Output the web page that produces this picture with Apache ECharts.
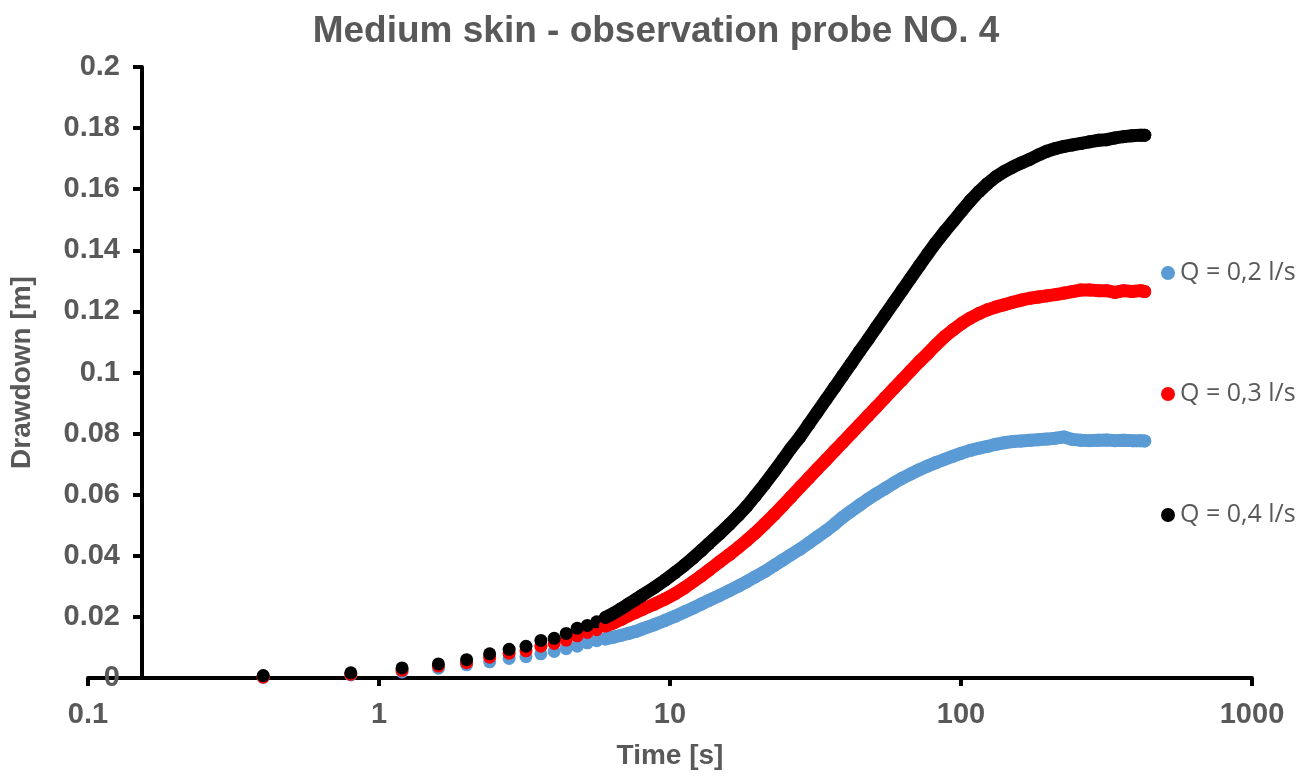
<!DOCTYPE html>
<html>
<head>
<meta charset="utf-8">
<script src="https://cdn.jsdelivr.net/npm/echarts@6/dist/echarts.min.js"></script>
<style>
  html, body { margin: 0; padding: 0; background: #fff; }
  #chart { width: 1312px; height: 778px; }
</style>
</head>
<body>
<div id="chart"></div>
<script>
// time [s], readings every 0.4 s early on, sampled more sparsely later
const times = [
  0.4, 0.8, 1.2, 1.6, 2.0, 2.4, 2.8, 3.2, 3.6, 4.0, 4.4, 4.8, 5.2, 5.6, 6.0, 6.4, 6.8, 7.2, 7.6, 8.0,
  8.8, 9.6, 10.4, 11.2, 12.0, 12.8, 13.6, 14.8, 16.0, 17.2,
  18.4, 19.6, 21.2, 22.8, 24.4, 26.0, 28.0, 30.0, 32.0, 34.4,
  36.8, 39.2, 42.0, 44.8, 48.0, 51.2, 54.8, 58.8, 62.8, 67.2,
  72.0, 76.8, 82.0, 88.0, 94.0, 100.4, 107.6, 115.2, 123.2, 131.6,
  140.8, 150.8, 161.2, 172.4, 184.4, 197.2, 211.2, 226.0, 241.6, 258.4,
  276.4, 295.6, 316.4, 338.4, 362.0, 387.2, 414.4, 428.0
];

// drawdown [m]
const q02 = [
  0.0002, 0.0010, 0.0020, 0.0032, 0.0043, 0.0053, 0.0064, 0.0070, 0.0079, 0.0087, 0.0096, 0.0104, 0.0115, 0.0122, 0.0128, 0.0134, 0.0140, 0.0146, 0.0152, 0.0160,
  0.0174, 0.0188, 0.0202, 0.0216, 0.0229, 0.0242, 0.0254, 0.0270, 0.0286, 0.0301,
  0.0316, 0.0331, 0.0349, 0.0368, 0.0386, 0.0403, 0.0422, 0.0442, 0.0461, 0.0482,
  0.0504, 0.0526, 0.0547, 0.0566, 0.0586, 0.0603, 0.0620, 0.0638, 0.0654, 0.0668,
  0.0682, 0.0694, 0.0705, 0.0716, 0.0726, 0.0736, 0.0745, 0.0752, 0.0758, 0.0765,
  0.0770, 0.0774, 0.0776, 0.0778, 0.0780, 0.0782, 0.0785, 0.0789, 0.0781, 0.0778,
  0.0777, 0.0778, 0.0779, 0.0777, 0.0778, 0.0777, 0.0777, 0.0776
];
const q03 = [
  0.0003, 0.0012, 0.0025, 0.0039, 0.0050, 0.0068, 0.0081, 0.0089, 0.0104, 0.0113, 0.0124, 0.0138, 0.0149, 0.0158, 0.0170, 0.0180, 0.0192, 0.0204, 0.0214, 0.0224,
  0.0241, 0.0258, 0.0276, 0.0295, 0.0315, 0.0334, 0.0353, 0.0380, 0.0404, 0.0428,
  0.0451, 0.0474, 0.0505, 0.0535, 0.0564, 0.0592, 0.0625, 0.0655, 0.0683, 0.0714,
  0.0744, 0.0771, 0.0801, 0.0829, 0.0859, 0.0887, 0.0917, 0.0948, 0.0976, 0.1006,
  0.1036, 0.1062, 0.1090, 0.1118, 0.1140, 0.1160, 0.1178, 0.1193, 0.1205, 0.1214,
  0.1222, 0.1230, 0.1237, 0.1243, 0.1247, 0.1251, 0.1255, 0.1260, 0.1265, 0.1270,
  0.1270, 0.1268, 0.1268, 0.1262, 0.1268, 0.1265, 0.1268, 0.1265
];
const q04 = [
  0.0008, 0.0017, 0.0033, 0.0046, 0.0060, 0.0079, 0.0094, 0.0104, 0.0123, 0.0130, 0.0146, 0.0163, 0.0172, 0.0184, 0.0198, 0.0212, 0.0227, 0.0242, 0.0256, 0.0270,
  0.0295, 0.0320, 0.0345, 0.0369, 0.0393, 0.0417, 0.0440, 0.0472, 0.0503, 0.0533,
  0.0563, 0.0595, 0.0636, 0.0676, 0.0714, 0.0751, 0.0790, 0.0831, 0.0869, 0.0912,
  0.0952, 0.0989, 0.1030, 0.1069, 0.1109, 0.1148, 0.1188, 0.1230, 0.1269, 0.1309,
  0.1350, 0.1388, 0.1425, 0.1462, 0.1495, 0.1528, 0.1562, 0.1592, 0.1618, 0.1640,
  0.1658, 0.1673, 0.1686, 0.1698, 0.1712, 0.1724, 0.1733, 0.1740, 0.1745, 0.1750,
  0.1755, 0.1760, 0.1762, 0.1768, 0.1772, 0.1775, 0.1777, 0.1777
];

const names = ['Q = 0,2 l/s', 'Q = 0,3 l/s', 'Q = 0,4 l/s'];
const colors = ['#5B9BD5', '#FF0000', '#000000'];
const values = [q02, q03, q04];

const gray = '#595959';
const bandFrom = 14; // index of t = 6 s, where the points merge into a band

const series = [];
values.forEach((vals, k) => {
  const pts = times.map((t, i) => [t, vals[i]]);
  // dense readings blur into a thick band
  series.push({
    name: names[k] + ' band',
    type: 'line',
    data: pts.slice(bandFrom),
    symbol: 'none',
    lineStyle: { color: colors[k], width: 13, cap: 'round', join: 'round' },
    silent: true
  });
  series.push({
    name: names[k],
    type: 'scatter',
    data: pts,
    symbolSize: 13,
    itemStyle: { color: colors[k], opacity: 1 }
  });
});

const chart = echarts.init(document.getElementById('chart'));
chart.setOption({
  animation: false,
  backgroundColor: '#ffffff',
  title: {
    text: 'Medium skin - observation probe NO. 4',
    left: 'center',
    top: 8,
    textStyle: { fontFamily: 'Liberation Sans', fontWeight: 'bold', fontSize: 37, color: gray }
  },
  legend: {
    data: names,
    orient: 'vertical',
    left: 1156,
    top: 253,
    icon: 'circle',
    itemWidth: 14,
    itemHeight: 14,
    itemGap: 91,
    textStyle: { fontFamily: 'Open Sans', fontSize: 25, color: gray, lineHeight: 30 }
  },
  grid: [
    { left: 88, right: 60, top: 67, bottom: 100 },
    { left: 140, right: 60, top: 67, bottom: 100 }
  ],
  xAxis: [
    {
      type: 'log',
      logBase: 10,
      min: 0.1,
      max: 1000,
      gridIndex: 0,
      name: 'Time [s]',
      nameLocation: 'middle',
      nameGap: 64,
      nameTextStyle: { fontFamily: 'Liberation Sans', fontWeight: 'bold', fontSize: 28, color: gray },
      axisLine: { show: true, onZero: false, lineStyle: { color: '#000', width: 4 } },
      axisTick: { show: true, length: 8, lineStyle: { color: '#000', width: 4 } },
      minorTick: { show: false },
      splitLine: { show: false },
      axisLabel: {
        fontFamily: 'Liberation Sans', fontWeight: 'bold', fontSize: 29, color: gray, margin: 22,
        formatter: function (v) { return String(v); }
      }
    },
    { type: 'value', gridIndex: 1, show: false, min: 0, max: 1 }
  ],
  yAxis: [
    { type: 'value', gridIndex: 0, show: false, min: 0, max: 0.2 },
    {
      type: 'value',
      gridIndex: 1,
      min: 0,
      max: 0.2,
      interval: 0.02,
      name: 'Drawdown [m]',
      nameLocation: 'middle',
      nameRotate: 90,
      nameGap: 106,
      nameTextStyle: { fontFamily: 'Liberation Sans', fontWeight: 'bold', fontSize: 28, color: gray },
      axisLine: { show: true, lineStyle: { color: '#000', width: 4 } },
      axisTick: { show: true, length: 9, lineStyle: { color: '#000', width: 4 } },
      splitLine: { show: false },
      axisLabel: { fontFamily: 'Liberation Sans', fontWeight: 'bold', fontSize: 29, color: gray, margin: 22 }
    }
  ],
  series: series
});

window.addEventListener('resize', function () {
  chart.resize();
});
</script>
</body>
</html>
